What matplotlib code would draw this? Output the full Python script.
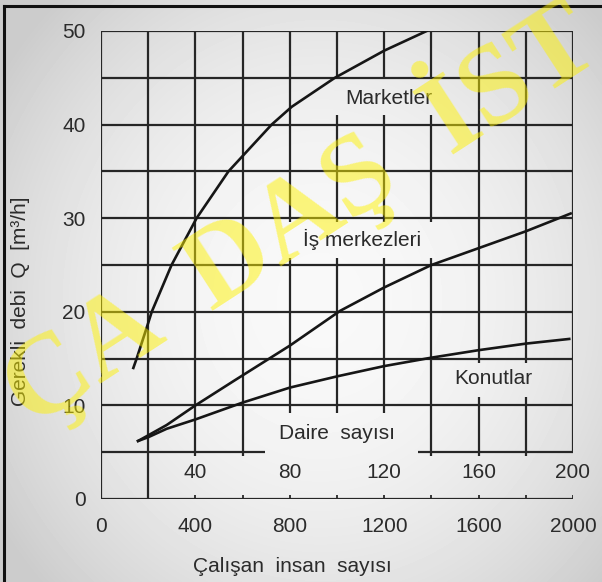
import numpy as np
import matplotlib
matplotlib.use("Agg")
import matplotlib.pyplot as plt
from matplotlib.lines import Line2D

# ---------------- data ----------------
market_x = [137, 151, 200, 215, 299, 405, 540, 723, 808, 991, 1200, 1380]
market_y = [14.0, 15.0, 18.8, 20.0, 25.0, 30.0, 35.0, 40.0, 41.9, 45.0, 47.9, 50.0]

is_x = [157, 200, 278, 400, 568, 801, 1013, 1200, 1400, 1600, 1800, 1990]
is_y = [6.2, 6.8, 7.9, 10.0, 12.7, 16.4, 20.1, 22.6, 25.0, 26.8, 28.6, 30.5]

konut_x = [157, 200, 278, 400, 600, 800, 1000, 1200, 1400, 1600, 1800, 1984]
konut_y = [6.2, 6.6, 7.5, 8.5, 10.3, 11.9, 13.1, 14.2, 15.1, 15.9, 16.6, 17.1]

x_ticks = [0, 400, 800, 1200, 1600, 2000]
y_ticks = [0, 10, 20, 30, 40, 50]
daire_ticks = [40, 80, 120, 160, 200]      # Daire sayisi = calisan / 10

series_labels = ["Marketler", "İş merkezleri", "Konutlar"]

# ---------------- figure ----------------
W, H = 602, 582
fig = plt.figure(figsize=(W / 100, H / 100), dpi=100)

# scanned-paper gradient background
bg = fig.add_axes([0, 0, 1, 1], zorder=-10)
bg.axis("off")
yy, xx = np.mgrid[0:H, 0:W]
r2 = ((xx - 320) / 340.0) ** 2 + ((yy - 300) / 370.0) ** 2
val = np.clip(0.975 - 0.14 * r2, 0.80, 1.0)
bg.imshow(val, cmap="gray", vmin=0, vmax=1, aspect="auto", interpolation="bilinear")

# border of the scan (left and top)
fig.add_artist(Line2D([4 / W, 4 / W], [0, 1 - 6 / H], color="#111111", lw=2.2))
fig.add_artist(Line2D([4 / W, 1], [1 - 6 / H, 1 - 6 / H], color="#111111", lw=2.2))

L, R, T, B = 101, 573, 31, 499
ax = fig.add_axes([L / W, 1 - B / H, (R - L) / W, (B - T) / H])
ax.set_facecolor("none")
ax.set_xlim(0, 2000)
ax.set_ylim(0, 50)
for s in ax.spines.values():
    s.set_visible(False)

gc = "#262626"
glw = 1.6
# horizontal grid lines
for yv in range(10, 51, 5):
    ax.plot([0, 2000], [yv, yv], color=gc, lw=glw, solid_capstyle="butt")
ax.plot([0, 695], [5, 5], color=gc, lw=glw, solid_capstyle="butt")
ax.plot([1345, 2000], [5, 5], color=gc, lw=glw, solid_capstyle="butt")
ax.plot([0, 2000], [0, 0], color=gc, lw=glw, solid_capstyle="butt")

# vertical grid lines (with the breaks left for the labels)
vsegs = {
    0: [(0, 50)],
    200: [(0, 50)],
    400: [(4.6, 50)],
    600: [(4.6, 50)],
    800: [(9.2, 25.8), (29.6, 50)],
    1000: [(9.2, 25.8), (29.6, 41.0), (45, 50)],
    1200: [(9.2, 25.8), (29.6, 41.0), (45, 50)],
    1400: [(4.6, 25.8), (29.6, 41.0), (45, 50)],
    1600: [(4.6, 10.9), (14.5, 50)],
    1800: [(4.6, 10.9), (14.5, 50)],
    2000: [(5, 50)],
}
for xv, segs in vsegs.items():
    for y0, y1 in segs:
        ax.plot([xv, xv], [y0, y1], color=gc, lw=glw, solid_capstyle="butt")
    if xv >= 400:
        ax.plot([xv, xv], [0, 0.45], color=gc, lw=glw * 0.8, solid_capstyle="butt")

# curves
lc = "#161616"
ax.plot(market_x, market_y, color=lc, lw=1.9, solid_joinstyle="round")
ax.plot(is_x, is_y, color=lc, lw=1.9, solid_joinstyle="round")
ax.plot(konut_x, konut_y, color=lc, lw=1.9, solid_joinstyle="round")

fam = ["Liberation Sans", "DejaVu Sans"]
tc = "#2b2b2b"
fs = 15
ax.text(1220, 42.8, series_labels[0], fontsize=fs, family=fam, color=tc, ha="center", va="center")
ax.text(1106, 27.7, series_labels[1], fontsize=fs, family=fam, color=tc, ha="center", va="center")
ax.text(1661, 12.9, series_labels[2], fontsize=fs, family=fam, color=tc, ha="center", va="center")
ax.text(1000, 7.05, "Daire  sayısı", fontsize=fs, family=fam, color=tc, ha="center", va="center")

for d in daire_ticks:
    ax.text(d * 10, 2.8, str(d), fontsize=fs, family=fam, color=tc, ha="center", va="center")

ax.set_xticks(x_ticks)
ax.set_xticklabels([str(v) for v in x_ticks], fontsize=fs, family=fam, color=tc)
ax.set_yticks(y_ticks)
ax.set_yticklabels([str(v) for v in y_ticks], fontsize=fs, family=fam, color=tc)
ax.tick_params(axis="x", length=0, pad=13)
ax.tick_params(axis="y", length=0, pad=11)

ax.set_xlabel("Çalışan  insan  sayısı", fontsize=fs, family=fam, color=tc)
ax.xaxis.set_label_coords(0.405, -0.124)
ax.set_ylabel("Gerekli  debi  Q  [m³/h]", fontsize=fs, family=fam, color=tc)
ax.yaxis.set_label_coords(-0.150, 0.423)

# yellow watermark of the scan
fig.text(298 / W, 1 - 212 / H, "ÇA  DAŞ  İST", fontsize=82, family=["Liberation Serif", "DejaVu Serif"],
         fontweight="bold", color="#fff200", alpha=0.5, rotation=33, rotation_mode="anchor",
         ha="center", va="center", zorder=20)

fig.savefig("out.png", dpi=100)
